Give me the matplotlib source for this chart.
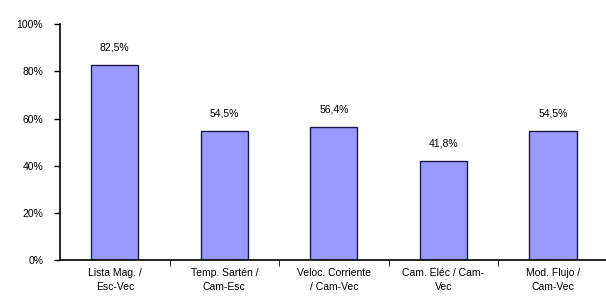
import matplotlib
matplotlib.use("Agg")
import matplotlib.pyplot as plt
import numpy as np

categories = ["Lista Mag. /\nEsc-Vec", "Temp. Sartén /\nCam-Esc", "Veloc. Corriente\n/ Cam-Vec",
              "Cam. Eléc / Cam-\nVec", "Mod. Flujo /\nCam-Vec"]
values = [82.5, 54.5, 56.4, 41.8, 54.5]
yticks = [0, 20, 40, 60, 80, 100]

plt.rcParams['font.family'] = ['Liberation Sans', 'DejaVu Sans']

fig = plt.figure(figsize=(6.06, 3.02), dpi=100)
ax = fig.add_axes([0.099, 0.139, 0.904, 0.781])

x = np.arange(len(categories))
ax.bar(x, values, width=0.43, color='#9999FF', edgecolor='#1a1a4a', linewidth=1.0)
for xi, v in zip(x, values):
    ax.text(xi, v + 7.5, f"{v:.1f}%".replace('.', ','), ha='center', va='center', fontsize=7.5)

ax.set_xlim(-0.5, len(categories) - 0.5)
ax.set_ylim(0, 100)
ax.set_yticks(yticks)
ax.set_yticklabels([f"{t}%" for t in yticks], fontsize=7.5)
ax.set_xticks(x)
ax.set_xticklabels(categories, fontsize=7.5, linespacing=1.5)
ax.tick_params(axis='x', length=0, pad=6)
ax.set_xticks(np.arange(len(categories)) + 0.5, minor=True)
ax.tick_params(axis='x', which='minor', length=4, direction='out', color='black')
ax.tick_params(axis='y', length=4, direction='out', width=1, pad=8)
for s in ['top', 'right']:
    ax.spines[s].set_visible(False)
ax.spines['left'].set_linewidth(1.2)
ax.spines['bottom'].set_linewidth(1.2)

fig.savefig("out.png", dpi=100)
